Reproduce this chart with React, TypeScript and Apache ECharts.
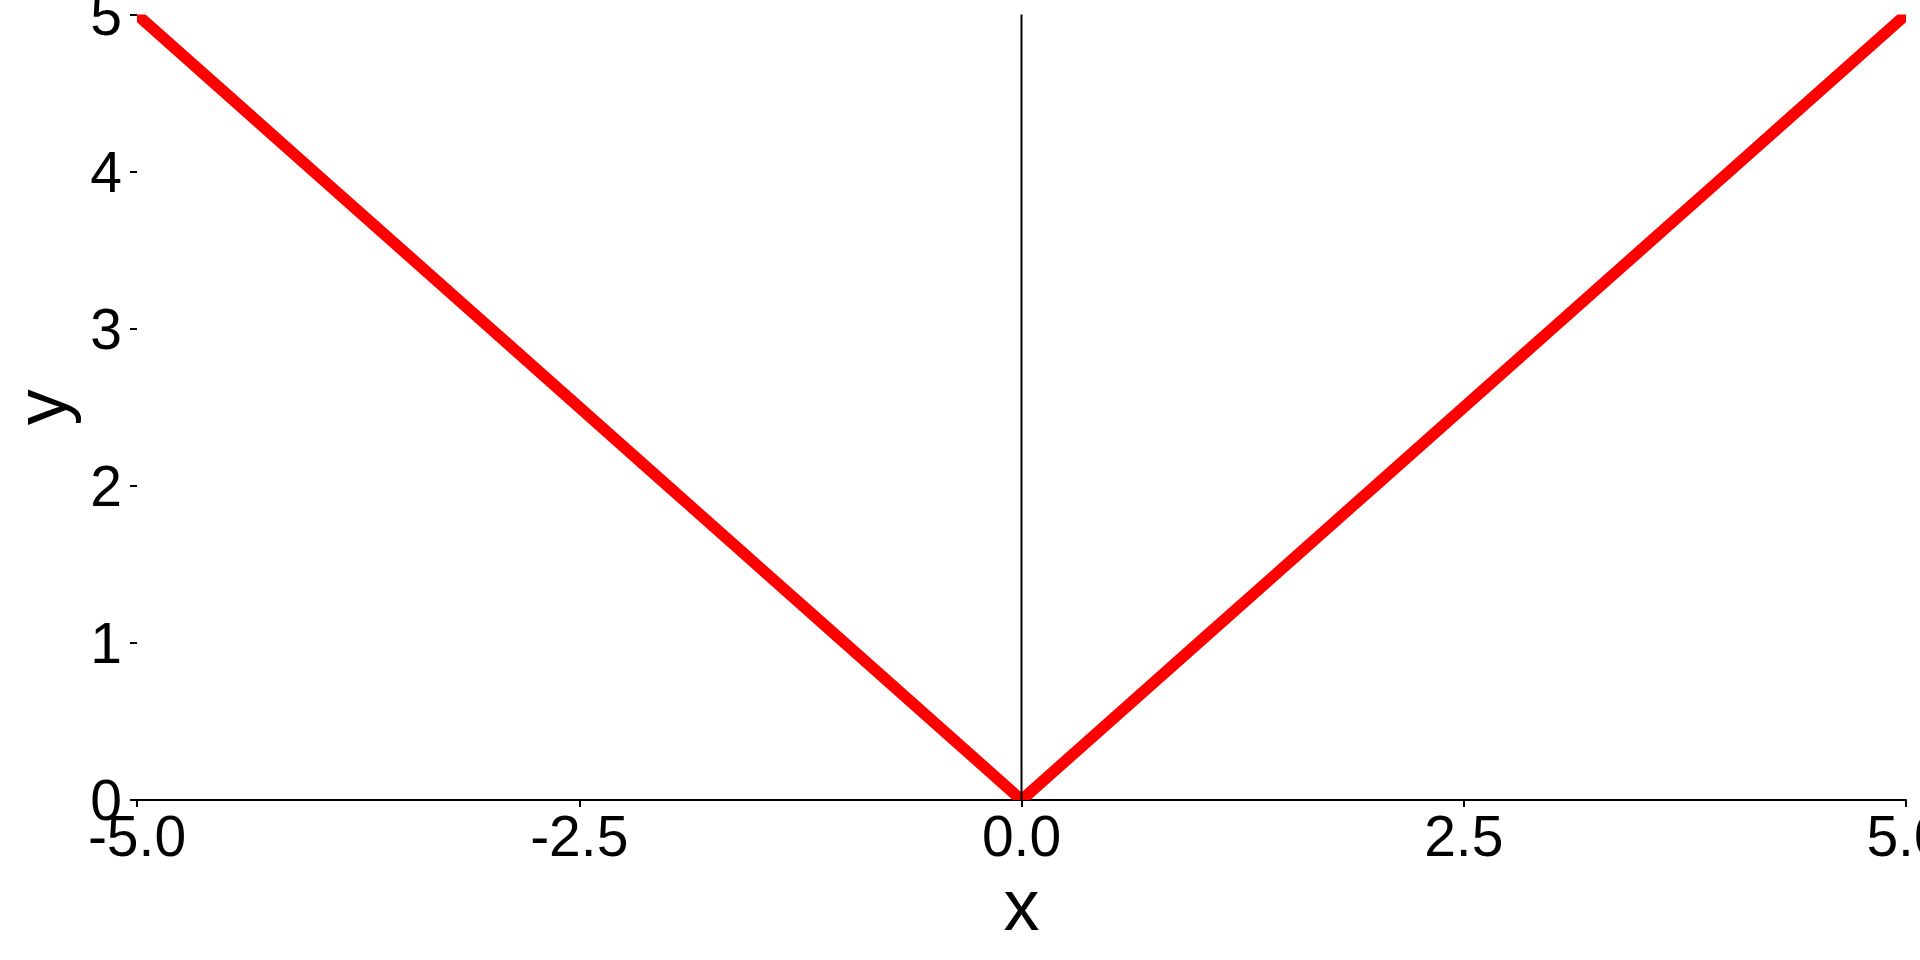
import React, { useEffect, useRef } from "react";
import * as echarts from "echarts";

// ---- data ----
const X_VALUES: number[] = [-5, -4, -3, -2, -1, 0, 1, 2, 3, 4, 5];
const Y_VALUES: number[] = [5, 4, 3, 2, 1, 0, 1, 2, 3, 4, 5];
const VLINE_X: number[] = [0, 0];
const VLINE_Y: number[] = [0, 5];
const X_TICKS: number[] = [-5, -2.5, 0, 2.5, 5];
const Y_TICKS: number[] = [0, 1, 2, 3, 4, 5];

const FONT = "'Liberation Sans', Arial, Helvetica, sans-serif";
const W = 1920;
const H = 960;
const GRID_LEFT = 137;
const GRID_RIGHT = 14;
const GRID_TOP = 14.6;
const GRID_BOTTOM = 160;

export default function App() {
  const ref = useRef<HTMLDivElement>(null);

  useEffect(() => {
    if (!ref.current) return;
    const chart = echarts.init(ref.current, null, { renderer: "svg" });
    const axisY = H - GRID_BOTTOM;
    const option: any = {
      animation: false,
      backgroundColor: "#ffffff",
      textStyle: { fontFamily: FONT },
      grid: {
        left: GRID_LEFT,
        right: GRID_RIGHT,
        top: GRID_TOP,
        bottom: GRID_BOTTOM,
        containLabel: false,
        outerBoundsMode: "none",
      },
      xAxis: {
        type: "value",
        min: X_TICKS[0],
        max: X_TICKS[X_TICKS.length - 1],
        interval: 2.5,
        name: "x",
        nameLocation: "middle",
        nameGap: 69,
        nameMoveOverlap: false,
        nameTextStyle: { fontSize: 72, color: "#000", fontFamily: FONT },
        axisLine: { show: true, onZero: false, lineStyle: { color: "#000", width: 2 } },
        axisTick: { show: true, length: 7, lineStyle: { color: "#000", width: 2 } },
        axisLabel: {
          show: true,
          margin: 7.5,
          fontSize: 57,
          color: "#000",
          fontFamily: FONT,
          formatter: (v: number) => v.toFixed(1),
          showMinLabel: true,
          showMaxLabel: true,
          hideOverlap: false,
        },
        splitLine: { show: false },
      },
      yAxis: {
        type: "value",
        min: Y_TICKS[0],
        max: Y_TICKS[Y_TICKS.length - 1],
        interval: 1,
        name: "y",
        nameLocation: "middle",
        nameGap: 60.5,
        nameMoveOverlap: false,
        nameTextStyle: { fontSize: 72, color: "#000", fontFamily: FONT },
        axisLine: { show: false, onZero: false },
        axisTick: { show: true, length: 7, lineStyle: { color: "#000", width: 2 } },
        axisLabel: {
          show: true,
          margin: 15,
          fontSize: 57,
          color: "#000",
          fontFamily: FONT,
          formatter: (v: number) => String(v),
          showMinLabel: true,
          showMaxLabel: true,
          hideOverlap: false,
        },
        splitLine: { show: false },
      },
      graphic: [
        {
          type: "line",
          shape: { x1: GRID_LEFT - 7, y1: axisY, x2: GRID_LEFT, y2: axisY },
          style: { stroke: "#000", lineWidth: 2 },
          z: 1,
        },
      ],
      series: [
        {
          type: "custom",
          clip: true,
          z: 2,
          data: X_VALUES.map((x, i) => [x, Y_VALUES[i]]),
          encode: { x: 0, y: 1 },
          renderItem: (params: any, api: any) => {
            if (params.dataIndex !== 0) return null;
            const pts = X_VALUES.map((x, i) => api.coord([x, Y_VALUES[i]]));
            return {
              type: "polyline",
              shape: { points: pts },
              style: { stroke: "#FF0000", lineWidth: 11.5, fill: null, lineJoin: "miter", lineCap: "butt" },
            };
          },
        },
        {
          type: "line",
          z: 3,
          symbol: "none",
          data: VLINE_X.map((x, i) => [x, VLINE_Y[i]]),
          lineStyle: { color: "#000", width: 2 },
          silent: true,
        },
      ],
    };
    chart.setOption(option);
    return () => chart.dispose();
  }, []);

  return (
    <div
      ref={ref}
      style={{ position: "fixed", left: 0, top: 0, width: W, height: H, background: "#fff" }}
    />
  );
}
